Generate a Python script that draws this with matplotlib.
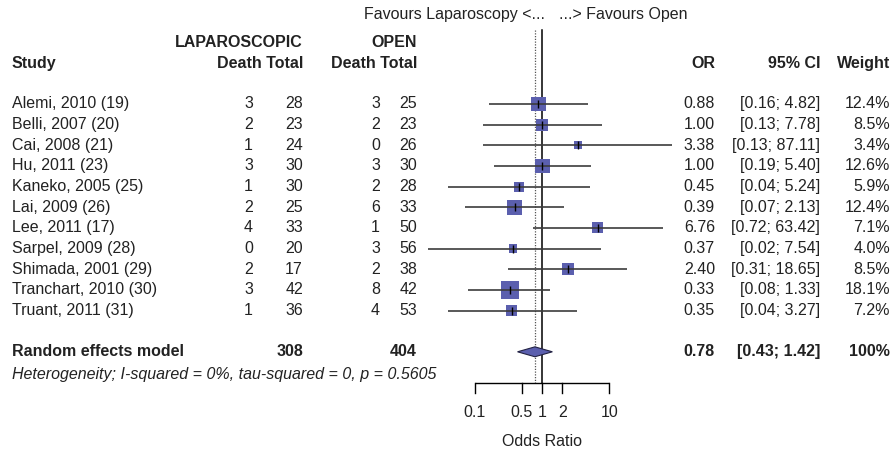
import matplotlib
matplotlib.use("Agg")
import matplotlib.pyplot as plt
from matplotlib.transforms import blended_transform_factory
from matplotlib.patches import Polygon

plt.rcParams['font.family'] = ['Liberation Sans', 'DejaVu Sans']
plt.rcParams['font.size'] = 11.5

studies = ["Alemi, 2010 (19)", "Belli, 2007 (20)", "Cai, 2008 (21)", "Hu, 2011 (23)",
           "Kaneko, 2005 (25)", "Lai, 2009 (26)", "Lee, 2011 (17)", "Sarpel, 2009 (28)",
           "Shimada, 2001 (29)", "Tranchart, 2010 (30)", "Truant, 2011 (31)"]
lap_death = [3, 2, 1, 3, 1, 2, 4, 0, 2, 3, 1]
lap_total = [28, 23, 24, 30, 30, 25, 33, 20, 17, 42, 36]
open_death = [3, 2, 0, 3, 2, 6, 1, 3, 2, 8, 4]
open_total = [25, 23, 26, 30, 28, 33, 50, 56, 38, 42, 53]
odds = [0.88, 1.00, 3.38, 1.00, 0.45, 0.39, 6.76, 0.37, 2.40, 0.33, 0.35]
ci_low = [0.16, 0.13, 0.13, 0.19, 0.04, 0.07, 0.72, 0.02, 0.31, 0.08, 0.04]
ci_high = [4.82, 7.78, 87.11, 5.40, 5.24, 2.13, 63.42, 7.54, 18.65, 1.33, 3.27]
weights = [12.4, 8.5, 3.4, 12.6, 5.9, 12.4, 7.1, 4.0, 8.5, 18.1, 7.2]

pooled_or = 0.78
pooled_low = 0.43
pooled_high = 1.42
lap_sum = 308
open_sum = 404
heterogeneity = "Heterogeneity; I-squared = 0%, tau-squared = 0, p = 0.5605"
xticks = [0.1, 0.5, 1, 2, 10]
xticklabels = ["0.1", "0.5", "1", "2", "10"]

W, H = 893, 451
fig = plt.figure(figsize=(W / 100, H / 100), dpi=100)

# forest axes
x0, x1 = 420, 700
ax = fig.add_axes([x0 / W, 0, (x1 - x0) / W, 1])
ax.set_xscale('log')
c1, dec = 542.15, 67.15
ax.set_xlim(10 ** ((x0 - c1) / dec), 10 ** ((x1 - c1) / dec))
top_row = (0 - 104.0) / 20.65
bot_row = (H - 104.0) / 20.65
ax.set_ylim(bot_row, top_row)
ax.axis('off')

tr = blended_transform_factory(fig.transFigure, ax.transData)

def px(x):
    return x / W

n = len(studies)
rows = list(range(n))
pooled_row = n + 1
axis_row = 13.49
line_top = -3.58

# reference lines
ax.plot([1, 1], [line_top, axis_row], color='black', lw=1.1, zorder=1)
ax.plot([pooled_or, pooled_or], [line_top, axis_row], color='#555555', lw=0.9,
        linestyle=(0, (1, 1.2)), zorder=1)

# squares
ax.scatter(odds, rows, marker='s', s=[8.97 * w for w in weights], color='#5B5FAE',
           linewidths=0, zorder=2)
# CI lines
for r, lo, hi in zip(rows, ci_low, ci_high):
    ax.plot([lo, hi], [r, r], color='#3c3c3c', lw=1.2, zorder=3, solid_capstyle='butt')
ax.scatter(odds, rows, marker='|', s=30, color='black', linewidths=1.0, zorder=4)

# diamond
h = 0.24
diamond = Polygon([(pooled_low, pooled_row), (pooled_or, pooled_row - h),
                   (pooled_high, pooled_row), (pooled_or, pooled_row + h)],
                  closed=True, facecolor='#5B5FAE', edgecolor='#222244', lw=0.8, zorder=3)
ax.add_patch(diamond)

# x axis
ax.plot([xticks[0], xticks[-1]], [axis_row, axis_row], color='black', lw=1.0,
        solid_capstyle='butt')
for t, lab in zip(xticks, xticklabels):
    ax.plot([t, t], [axis_row, axis_row + 0.5], color='black', lw=1.0)
    ax.text(t, 14.95, lab, ha='center', va='center', color='#222222')
ax.text(1, 16.35, "Odds Ratio", ha='center', va='center', color='#222222')

# top label
ax.text(px(545), -4.35, "Favours Laparoscopy <...", transform=tr, ha='right', va='center',
        color='#222222')
ax.text(px(559), -4.35, "...> Favours Open", transform=tr, ha='left', va='center',
        color='#222222')

# headers
hb = dict(fontweight='bold', va='center', transform=tr, color='#222222')
ax.text(px(303), -2.97, "LAPAROSCOPIC", ha='right', **hb)
ax.text(px(417), -2.97, "OPEN", ha='right', **hb)
ax.text(px(12), -1.95, "Study", ha='left', **hb)
ax.text(px(303), -1.95, "Death Total", ha='right', **hb)
ax.text(px(417), -1.95, "Death Total", ha='right', **hb)
ax.text(px(715), -1.95, "OR", ha='right', **hb)
ax.text(px(820), -1.95, "95% CI", ha='right', **hb)
ax.text(px(890), -1.95, "Weight", ha='right', **hb)

# study rows
tb = dict(va='center', transform=tr, color='#222222')
for r in rows:
    ax.text(px(12), r, studies[r], ha='left', **tb)
    ax.text(px(253), r, str(lap_death[r]), ha='right', **tb)
    ax.text(px(303), r, str(lap_total[r]), ha='right', **tb)
    ax.text(px(380), r, str(open_death[r]), ha='right', **tb)
    ax.text(px(417), r, str(open_total[r]), ha='right', **tb)
    ax.text(px(715), r, f"{odds[r]:.2f}", ha='right', **tb)
    ax.text(px(820), r, f"[{ci_low[r]:.2f}; {ci_high[r]:.2f}]", ha='right', **tb)
    ax.text(px(890), r, f"{weights[r]:.1f}%", ha='right', **tb)

# pooled row
ax.text(px(12), pooled_row, "Random effects model", ha='left', **hb)
ax.text(px(303), pooled_row, str(lap_sum), ha='right', **hb)
ax.text(px(417), pooled_row, str(open_sum), ha='right', **hb)
ax.text(px(715), pooled_row, f"{pooled_or:.2f}", ha='right', **hb)
ax.text(px(820), pooled_row, f"[{pooled_low:.2f}; {pooled_high:.2f}]", ha='right', **hb)
ax.text(px(890), pooled_row, "100%", ha='right', **hb)
ax.text(px(12), 13.1, heterogeneity, ha='left', style='italic', **tb)

fig.savefig("out.png", dpi=100)
